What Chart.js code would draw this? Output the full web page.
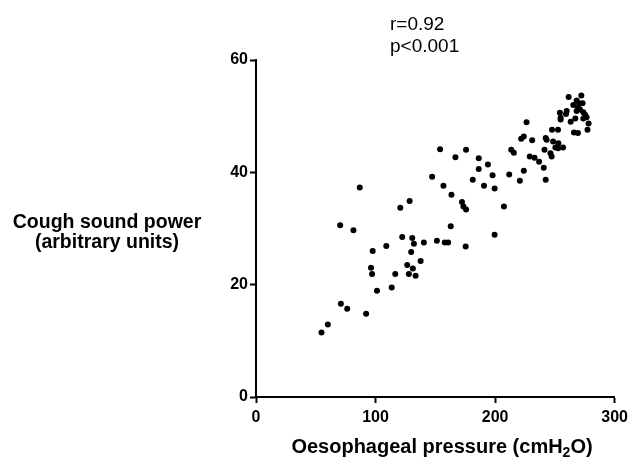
<!DOCTYPE html>
<html>
<head>
<meta charset="utf-8">
<script src="https://cdn.jsdelivr.net/npm/chart.js@4/dist/chart.umd.min.js"></script>
<style>
  html, body { margin: 0; padding: 0; background: #fff; }
</style>
</head>
<body>
<canvas id="coughChart" width="633" height="457"></canvas>
<script>
// oesophageal pressure (cmH2O) and cough sound power
var pressure = [
  54.8, 60.1, 71, 76.3, 92.1, 70.4, 81.5, 86.8, 97.6, 96.2,
  97.1, 101.2, 109, 113.5, 116.5, 120.7, 128.5, 122.3, 130.7, 132.1,
  129.8, 126.5, 131.2, 127.9, 133.5, 137.7, 140.4, 151.3, 157.9, 160.7,
  175.4, 199.6, 162.9, 147.3, 154, 166.8, 175.7, 156.8, 163.5, 172.3,
  173.5, 175.7, 207.4, 181.3, 186.3, 186.3, 194, 190.7, 197.9, 199.6,
  211.8, 220.7, 224, 213.5, 215.7, 221.8, 224, 226.3, 231, 229,
  233, 236.8, 240.7, 242.3, 241.3, 242.3, 243.1, 246.3, 247.3, 248.5,
  252.9, 250.4, 252.7, 256.8, 247.6, 252.6, 261.5, 272.1, 268.2, 270.4,
  273.2, 265.4, 259.9, 259.3, 254.2, 254.8, 254.8, 269.3, 271, 268.2,
  273.8, 275.4, 276.5, 267.1, 263.2, 273.8, 278.2, 277.3, 266, 269.3
];
var soundPower = [
  11.5, 12.9, 16.6, 15.7, 14.8, 30.6, 29.7, 37.3, 26.0, 23.0,
  21.9, 18.9, 26.9, 19.5, 21.9, 33.7, 34.9, 28.5, 28.3, 27.3,
  25.8, 23.5, 22.9, 21.9, 21.6, 24.2, 27.5, 27.8, 27.5, 27.5,
  26.8, 28.9, 30.4, 39.2, 44.1, 42.7, 44.0, 37.6, 36.0, 34.7,
  33.9, 33.4, 33.9, 38.7, 42.5, 40.6, 41.4, 37.6, 39.5, 37.1,
  39.6, 38.5, 40.3, 44.0, 43.5, 46.0, 46.4, 48.9, 45.7, 42.8,
  42.6, 41.9, 40.8, 38.7, 44.0, 46.1, 45.8, 43.4, 42.8, 45.5,
  45.2, 44.4, 44.3, 44.4, 47.6, 47.6, 53.4, 53.7, 52.8, 52.3,
  52.3, 52.0, 50.9, 50.4, 50.6, 49.7, 49.4, 51.6, 51.2, 50.9,
  50.7, 50.2, 49.8, 49.6, 49.0, 49.6, 48.7, 47.6, 47.1, 47.0
];
var xTicks = [0, 100, 200, 300];
var yTicks = [0, 20, 40, 60];
var statLines = ['r=0.92', 'p<0.001'];

var points = pressure.map(function (p, i) {
  return { x: p, y: soundPower[i] };
});

var FONT = '"Liberation Sans", Arial, Helvetica, sans-serif';

// titles drawn by hand: the y title is horizontal and the x title has a subscript
var labelsPlugin = {
  id: 'labels',
  afterDraw: function (chart) {
    var ctx = chart.ctx;
    var area = chart.chartArea;
    ctx.save();
    ctx.fillStyle = '#000';

    ctx.font = '19px ' + FONT;
    ctx.textAlign = 'left';
    ctx.textBaseline = 'alphabetic';
    ctx.fillText(statLines[0], 390, 30);
    ctx.fillText(statLines[1], 390, 52);

    ctx.font = 'bold 19.5px ' + FONT;
    ctx.textAlign = 'center';
    ctx.fillText('Cough sound power', 107, 228);
    ctx.fillText('(arbitrary units)', 107, 248);

    // x title with subscript 2
    var partA = 'Oesophageal pressure (cmH', sub = '2', partB = 'O)';
    ctx.font = 'bold 20px ' + FONT;
    var wA = ctx.measureText(partA).width;
    var wB = ctx.measureText(partB).width;
    ctx.font = 'bold 14px ' + FONT;
    var wS = ctx.measureText(sub).width;
    var total = wA + wS + wB;
    var x0 = 442 - total / 2;
    var base = 453;
    ctx.textAlign = 'left';
    ctx.font = 'bold 20px ' + FONT;
    ctx.fillText(partA, x0, base);
    ctx.font = 'bold 14px ' + FONT;
    ctx.fillText(sub, x0 + wA, base + 4);
    ctx.font = 'bold 20px ' + FONT;
    ctx.fillText(partB, x0 + wA + wS, base);
    ctx.restore();
  }
};

var axisStyle = {
  grid: {
    drawOnChartArea: false,
    drawTicks: true,
    tickLength: 6,
    tickColor: '#000',
    tickWidth: 2
  },
  border: { color: '#000', width: 2 },
  ticks: {
    color: '#000',
    font: { family: FONT, size: 16, weight: 'bold' }
  }
};

var ctx = document.getElementById('coughChart').getContext('2d');
var coughChart = new Chart(ctx, {
  type: 'scatter',
  data: {
    datasets: [{
      data: points,
      pointRadius: 3,
      pointHoverRadius: 3,
      pointBackgroundColor: '#000',
      pointBorderWidth: 0
    }]
  },
  options: {
    responsive: false,
    animation: false,
    devicePixelRatio: 1,
    layout: { padding: { top: 60, right: 16, left: 0, bottom: 0 } },
    plugins: {
      legend: { display: false },
      tooltip: { enabled: false }
    },
    scales: {
      x: Object.assign({}, axisStyle, {
        type: 'linear',
        min: 0,
        max: 300,
        afterBuildTicks: function (scale) {
          scale.ticks = xTicks.map(function (v) { return { value: v }; });
        },
        afterFit: function (scale) { scale.height = 60; },
        ticks: Object.assign({}, axisStyle.ticks, { padding: 5 })
      }),
      y: Object.assign({}, axisStyle, {
        type: 'linear',
        min: 0,
        max: 60,
        afterBuildTicks: function (scale) {
          scale.ticks = yTicks.map(function (v) { return { value: v }; });
        },
        afterFit: function (scale) { scale.width = 256; },
        ticks: Object.assign({}, axisStyle.ticks, { padding: 2 })
      })
    }
  },
  plugins: [labelsPlugin]
});
</script>
</body>
</html>
